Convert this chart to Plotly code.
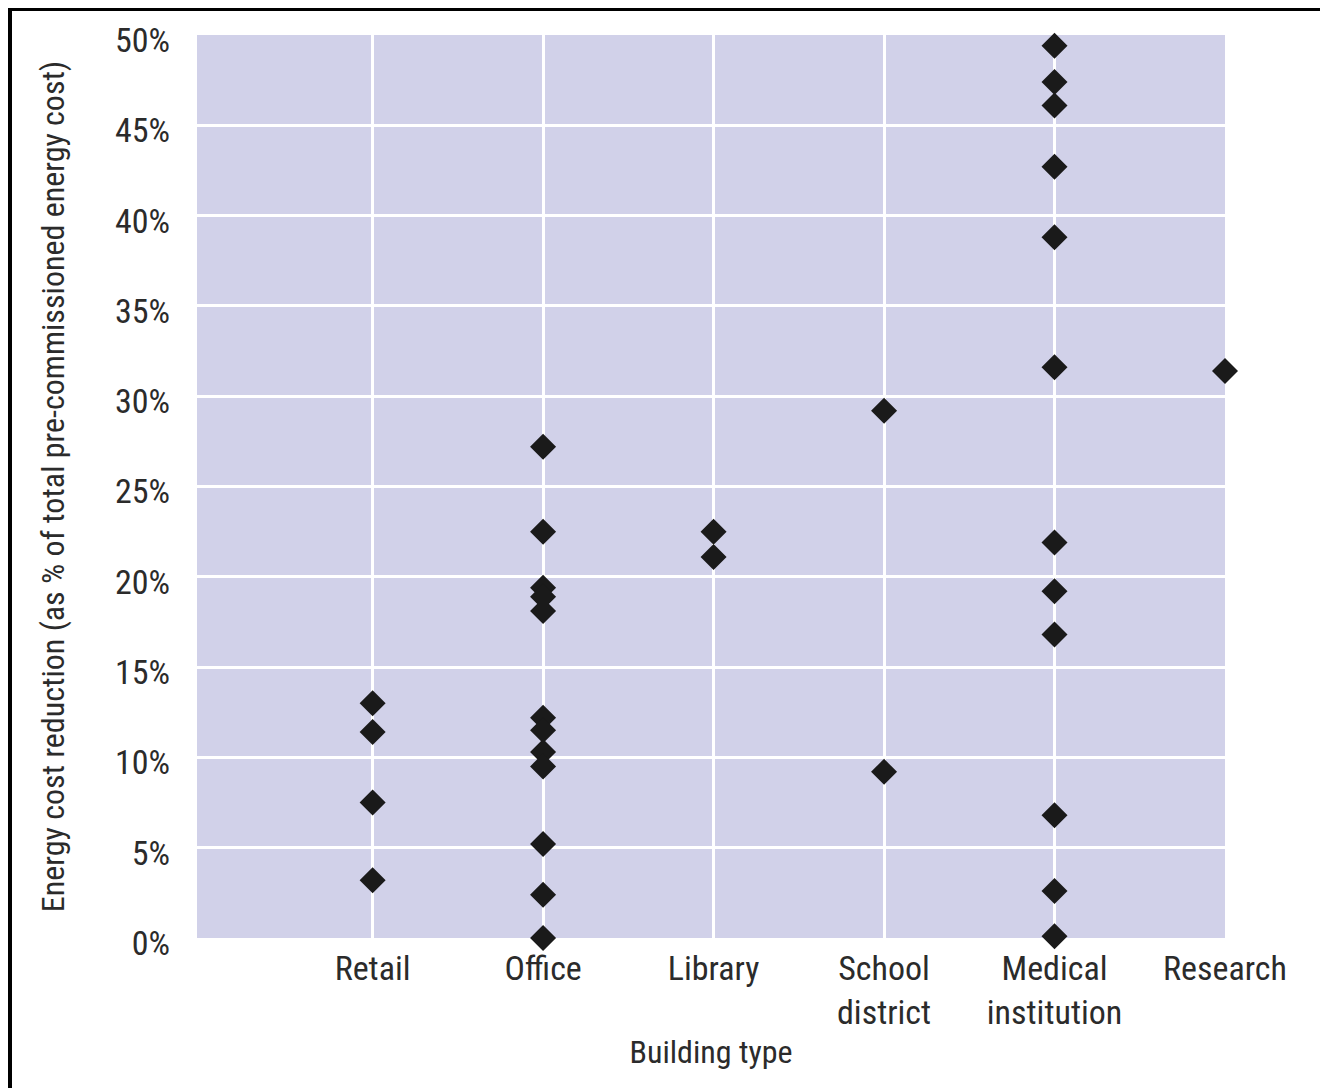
import plotly.graph_objects as go

categories = ["Retail", "Office", "Library", "School<br>district", "Medical<br>institution", "Research"]

retail = [13.0, 11.4, 7.5, 3.2]
office = [27.2, 22.5, 19.4, 18.9, 18.1, 12.2, 11.5, 10.3, 9.5, 5.2, 2.4, 0.0]
library = [22.5, 21.1]
school = [29.2, 9.2]
medical = [49.4, 47.4, 46.1, 42.7, 38.8, 31.6, 21.9, 19.2, 16.8, 6.8, 2.6, 0.1]
research = [31.4]

series = [retail, office, library, school, medical, research]

y_ticks = [0, 5, 10, 15, 20, 25, 30, 35, 40, 45, 50]
y_ticktext = [f"{v}%" for v in y_ticks]

xs, ys = [], []
for cat, vals in zip(categories, series):
    xs += [cat] * len(vals)
    ys += vals

FONT = "Liberation Sans Narrow, Roboto Condensed, Roboto, sans-serif"
TXT = "#2b2b2b"

fig = go.Figure()
fig.add_trace(go.Scatter(
    x=xs, y=ys, mode="markers",
    marker=dict(symbol="diamond", size=20, color="#1a1a1a", line=dict(width=0)),
    cliponaxis=False, showlegend=False,
))

# page body has an 8px margin; figure sized to fill the rest of the window
W, H = 1320, 1080
ml, mr, mt, mb = 189, 103, 27, 150
pw, ph = W - ml - mr, H - mt - mb

def px(x):
    return (x - ml) / pw

def py(y):
    return (H - mb - y) / ph

fig.update_layout(
    width=W, height=H,
    margin=dict(l=ml, r=mr, t=mt, b=mb, autoexpand=False),
    paper_bgcolor="white",
    plot_bgcolor="#D1D1E9",
    font=dict(family=FONT, size=34, color=TXT),
    xaxis=dict(
        type="category",
        categoryorder="array", categoryarray=categories,
        range=[-1.03, 5],
        showgrid=True, gridcolor="white", gridwidth=3,
        showline=False, zeroline=False, ticks="",
        tickfont=dict(family=FONT, size=34, color=TXT),
        ticklabelstandoff=7,
        title=dict(text="Building type", font=dict(family=FONT, size=32, color=TXT), standoff=9),
    ),
    yaxis=dict(
        range=[0, 50],
        tickvals=y_ticks, ticktext=y_ticktext,
        showgrid=True, gridcolor="white", gridwidth=3,
        showline=False, zeroline=False, ticks="",
        tickfont=dict(family=FONT, size=34, color=TXT),
        ticklabelstandoff=26,
        ticklabelshift=5,
        title=dict(text="Energy cost reduction (as % of total pre-commissioned energy cost)",
                   font=dict(family=FONT, size=32, color=TXT), standoff=40),
    ),
    shapes=[
        dict(type="line", xref="paper", yref="paper", x0=px(2), x1=px(2), y0=py(0), y1=py(H),
             line=dict(color="black", width=4)),
        dict(type="line", xref="paper", yref="paper", x0=px(0), x1=px(W), y0=py(1), y1=py(1),
             line=dict(color="black", width=4)),
    ],
)

fig.write_html("out.html")
